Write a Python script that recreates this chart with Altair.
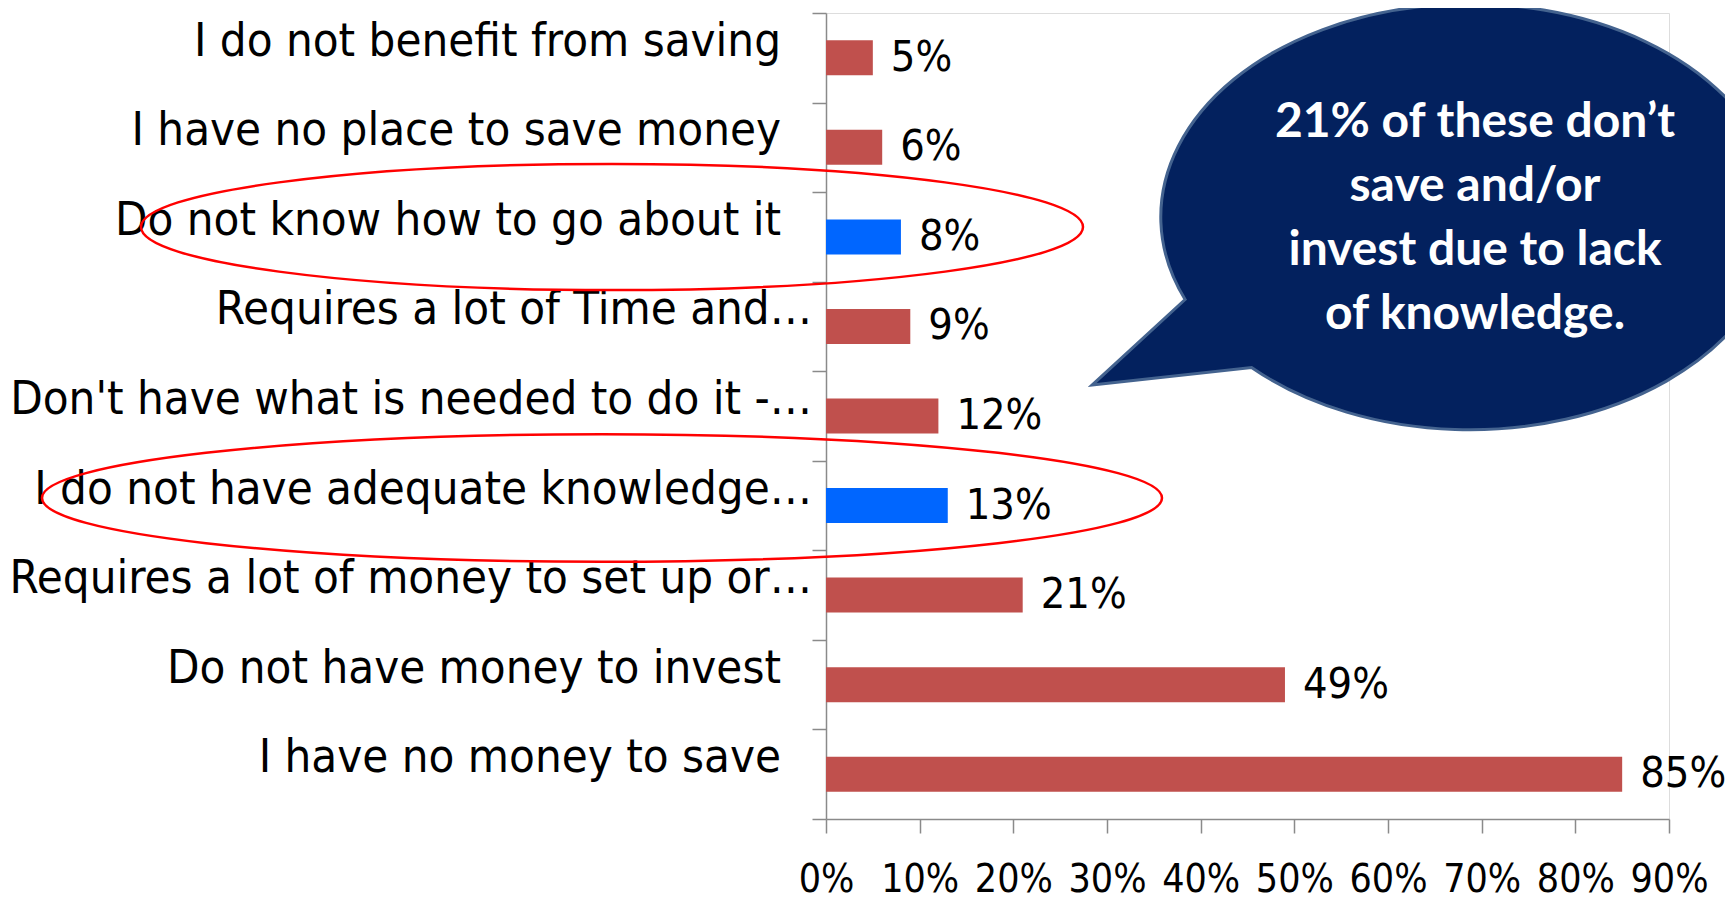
import altair as alt
import pandas as pd

categories = [
    "I do not benefit from saving",
    "I have no place to save money",
    "Do not know how to go about it",
    "Requires a lot of Time and…",
    "Don't have what is needed to do it -…",
    "I do not have adequate knowledge…",
    "Requires a lot of money to set up or…",
    "Do not have money to invest",
    "I have no money to save",
]
values = [5, 6, 8, 9, 12, 13, 21, 49, 85]
highlighted = ["Do not know how to go about it", "I do not have adequate knowledge…"]
x_ticks = [0, 10, 20, 30, 40, 50, 60, 70, 80, 90]
callout_lines = ["21% of these don’t", "save and/or", "invest due to lack", "of knowledge."]

df = pd.DataFrame({"reason": categories, "pct": values})
df["group"] = ["highlight" if c in highlighted else "other" for c in categories]
df["truncated"] = [c.endswith("…") for c in categories]
df["label"] = [f"{v}%" for v in values]

FONT = "Liberation Sans Narrow, DejaVu Sans Condensed, sans-serif"
AXIS_GRAY = "#8a8a8a"

base = alt.Chart(df)

y_enc = alt.Y(
    "reason:N",
    sort=categories,
    scale=alt.Scale(paddingInner=0, paddingOuter=0),
    axis=alt.Axis(
        title=None, labels=False, tickBand="extent", tickSize=14,
        tickColor=AXIS_GRAY, domainColor=AXIS_GRAY, tickWidth=1.5, domainWidth=1.5,
    ),
)
x_enc = alt.X(
    "pct:Q",
    scale=alt.Scale(domain=[0, 90], nice=False),
    axis=alt.Axis(
        title=None, values=x_ticks, labelExpr="datum.value + '%'", grid=False,
        tickSize=14, tickColor=AXIS_GRAY, domainColor=AXIS_GRAY, tickWidth=1.5,
        domainWidth=1.5, labelFont=FONT, labelFontSize=39, labelColor="black",
        labelPadding=46, labelBaseline="middle", labelOverlap=False,
        labelFlush=False,
    ),
)

bars = base.mark_bar(size=35).encode(
    x=x_enc,
    y=y_enc,
    color=alt.Color("group:N", scale=alt.Scale(domain=["other", "highlight"],
                                               range=["#C0504D", "#0066FF"]), legend=None),
)

value_labels = base.mark_text(align="left", baseline="middle", dx=18, font=FONT,
                              fontSize=43, color="black").encode(
    x="pct:Q", y=alt.Y("reason:N", sort=categories), text="label:N"
)

cat_full = base.transform_filter("!datum.truncated").mark_text(
    align="right", baseline="middle", dy=-16, font=FONT, fontSize=47, color="black"
).encode(x=alt.value(-45), y=alt.Y("reason:N", sort=categories), text="reason:N")

cat_trunc = base.transform_filter("datum.truncated").mark_text(
    align="right", baseline="middle", dy=-16, font=FONT, fontSize=47, color="black"
).encode(x=alt.value(-14), y=alt.Y("reason:N", sort=categories), text="reason:N")

one = pd.DataFrame({"k": [0]})

ell1 = alt.Chart(one).mark_point(
    shape="M -1 0 A 1 0.134 0 1 0 1 0 A 1 0.134 0 1 0 -1 0 Z",
    size=942 ** 2, filled=False, stroke="#FF0000", strokeWidth=2.5, opacity=1,
).encode(x=alt.value(-214), y=alt.value(214))

ell2 = alt.Chart(one).mark_point(
    shape="M -1 0 A 1 0.114 0 1 0 1 0 A 1 0.114 0 1 0 -1 0 Z",
    size=1120 ** 2, filled=False, stroke="#FF0000", strokeWidth=2.5, opacity=1,
).encode(x=alt.value(-224), y=alt.value(485))

bubble = alt.Chart(one).mark_point(
    shape="M -0.922 0.267 L -1.223 0.544 L -0.707 0.487 A 1 0.689 0 1 0 -0.922 0.267 Z",
    size=618 ** 2, filled=True, fill="#03215E", stroke="#44638F", strokeWidth=3,
    opacity=1, fillOpacity=1, strokeOpacity=1,
).encode(x=alt.value(644), y=alt.value(204))

bubble_text = alt.Chart(one).mark_text(
    text="\n".join(callout_lines), lineBreak="\n", lineHeight=64, align="center",
    baseline="middle", font="Lato", fontWeight="bold", fontSize=48, color="white",
).encode(x=alt.value(649), y=alt.value(110))

chart = alt.layer(
    bars, value_labels, cat_full, cat_trunc, ell1, ell2, bubble, bubble_text
).properties(
    width=843, height=806, autosize="none",
    padding={"left": 818, "top": 5, "right": 56, "bottom": 82},
).configure_view(stroke=None).configure(background="white")

chart.save("out.html", embed_options={"renderer": "svg", "actions": False})
